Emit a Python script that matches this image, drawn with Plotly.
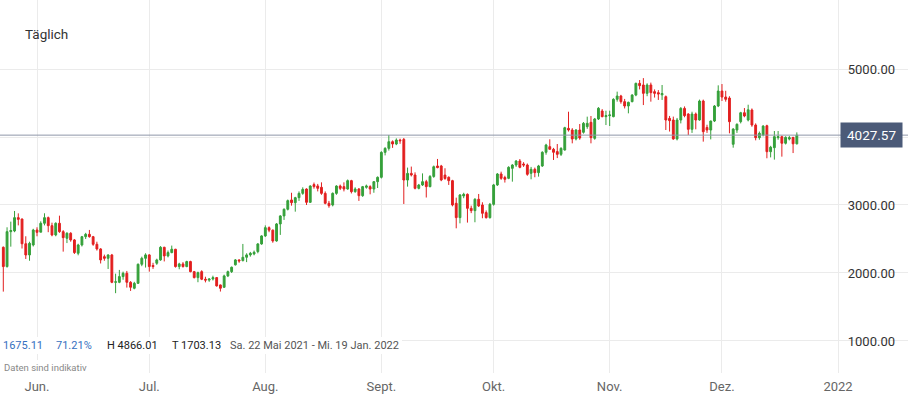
import pandas as pd
import plotly.graph_objects as go

# ---- data ----
start_date = "2021-05-23"
open_ = [
    2378, 2094, 2608, 2618, 2814, 2794, 2430, 2265, 2412,
    2632, 2600, 2731, 2814, 2696, 2559, 2731, 2608, 2510, 2584, 2486, 2290, 2412, 2534, 2569, 2534, 2422, 2353, 2240, 2216, 2265, 1863, 1863, 1947, 1996, 1863, 1775, 1848, 2128, 2216,
    2266, 2110, 2143, 2192, 2378, 2251, 2300, 2349, 2094, 2133, 2094, 2168, 2020, 1932, 2020, 1908, 1895, 1912, 1932, 1824, 1790, 1957, 2020, 2120, 2192, 2182, 2231, 2266, 2280, 2315, 2427,
    2545, 2667, 2630, 2471, 2721, 2839, 2937, 3074, 3034, 3108, 3171, 3235, 3039, 3300, 3280, 3260, 3171, 3025, 3000, 3171, 3279, 3270, 3235, 3358, 3196, 3235, 3137, 3260, 3270, 3235, 3343,
    3407, 3774, 3833, 3931, 3897, 3955, 3965, 3367, 3465, 3441, 3245, 3294, 3343, 3270, 3420, 3574, 3574, 3440, 3408, 3358, 3025, 2814, 3133, 3157, 2951, 2917, 3084, 3000, 2888, 2814,
    3010, 3295, 3456, 3405, 3392, 3539, 3588, 3647, 3603, 3588, 3466, 3525, 3476, 3574, 3775, 3858, 3819, 3785, 3745, 3809, 4127, 4103, 3971, 4103, 4069, 4152, 4216, 3980, 4265, 4382, 4299,
    4314, 4299, 4554, 4603, 4520, 4456, 4520, 4617, 4789, 4765, 4642, 4765, 4667, 4652, 4620, 4593, 4274, 4250, 3971, 4250, 4421, 4338, 4113, 4338, 4250, 4529, 4140, 4103, 4235, 4456,
    4676, 4588, 4573, 3893, 4103, 4225, 4357, 4250, 4397, 4176, 3990, 4030, 4166, 3784, 3843, 3990, 4005, 3908, 3970, 3995, 3900,
]
high = [
    2390, 2672, 2755, 2912, 2877, 2800, 2540, 2460, 2650,
    2672, 2760, 2878, 2830, 2740, 2745, 2843, 2630, 2600, 2600, 2500, 2430, 2545, 2590, 2633, 2545, 2460, 2365, 2270, 2275, 2280, 1990, 2045, 2020, 2030, 1880, 1870, 2140, 2240, 2290,
    2275, 2150, 2210, 2395, 2385, 2330, 2403, 2355, 2150, 2160, 2180, 2180, 2030, 2020, 2040, 1945, 1925, 1960, 1940, 1830, 1975, 2035, 2095, 2205, 2200, 2427, 2290, 2310, 2330, 2440, 2555,
    2700, 2685, 2640, 2735, 2850, 2950, 3080, 3180, 3120, 3200, 3260, 3245, 3290, 3330, 3310, 3333, 3200, 3060, 3185, 3290, 3300, 3333, 3375, 3370, 3260, 3250, 3280, 3300, 3290, 3350, 3420,
    3790, 3850, 4029, 3950, 3980, 3975, 3985, 3550, 3565, 3480, 3310, 3465, 3370, 3440, 3580, 3677, 3590, 3540, 3420, 3370, 3108, 3160, 3180, 3170, 2990, 3100, 3162, 3040, 2920, 3030,
    3310, 3470, 3490, 3430, 3570, 3600, 3660, 3676, 3630, 3610, 3560, 3550, 3590, 3790, 3900, 3966, 3840, 3897, 3850, 4150, 4372, 4130, 4115, 4191, 4220, 4299, 4309, 4280, 4440, 4410, 4387,
    4387, 4570, 4667, 4620, 4560, 4520, 4630, 4800, 4838, 4866, 4790, 4800, 4700, 4690, 4765, 4610, 4310, 4300, 4280, 4440, 4450, 4350, 4372, 4360, 4550, 4550, 4180, 4240, 4470, 4760,
    4779, 4680, 4600, 4130, 4200, 4370, 4426, 4475, 4420, 4200, 4080, 4175, 4180, 3870, 4088, 4088, 4020, 4010, 4015, 4000, 4068,
]
low = [
    1726, 2080, 2387, 2600, 2700, 2360, 2206, 2180, 2390,
    2540, 2600, 2700, 2600, 2540, 2540, 2590, 2314, 2440, 2460, 2280, 2260, 2390, 2500, 2520, 2400, 2330, 2140, 2180, 2059, 1850, 1703, 1850, 1900, 1785, 1736, 1760, 1840, 2100, 2080,
    2020, 2060, 2120, 2180, 2170, 2230, 2290, 2080, 2055, 2080, 2085, 2010, 1920, 1864, 1895, 1862, 1870, 1890, 1800, 1727, 1780, 1940, 2000, 2110, 2150, 2170, 2160, 2240, 2260, 2290, 2415,
    2530, 2600, 2445, 2460, 2560, 2780, 2920, 2990, 2902, 3060, 3150, 3000, 3030, 3240, 3200, 3150, 3010, 2960, 2980, 3150, 3220, 3200, 3225, 3170, 3180, 3060, 3120, 3240, 3157, 3180, 3250,
    3390, 3730, 3800, 3840, 3880, 3900, 3015, 3270, 3420, 3230, 3230, 3280, 3110, 3260, 3400, 3540, 3350, 3370, 3295, 2980, 2657, 2730, 3100, 2741, 2880, 2746, 2970, 2805, 2800, 2800,
    2990, 3280, 3370, 3330, 3380, 3343, 3560, 3540, 3560, 3430, 3378, 3408, 3417, 3560, 3740, 3820, 3662, 3690, 3720, 3800, 4080, 3907, 3950, 3960, 4050, 4120, 3907, 3960, 4250, 4290, 4176,
    4162, 4290, 4520, 4490, 4420, 4348, 4510, 4600, 4700, 4470, 4600, 4520, 4580, 4545, 4545, 4103, 4080, 3960, 3950, 4200, 4290, 4030, 4060, 4113, 4240, 3932, 4060, 3965, 4220, 4440,
    4530, 4520, 4054, 3843, 4060, 4200, 4290, 4230, 4150, 3951, 3960, 4010, 3687, 3700, 3667, 3960, 3711, 3890, 3950, 3764, 3890,
]
close = [
    2094, 2608, 2625, 2814, 2789, 2430, 2265, 2436, 2632,
    2598, 2731, 2814, 2696, 2559, 2731, 2608, 2520, 2584, 2486, 2300, 2412, 2534, 2569, 2534, 2422, 2353, 2192, 2216, 2265, 1863, 1870, 1947, 1996, 1863, 1790, 1848, 2128, 2216, 2266,
    2094, 2094, 2192, 2378, 2251, 2300, 2349, 2094, 2133, 2094, 2168, 2020, 1932, 2005, 1908, 1895, 1910, 1932, 1810, 1775, 1957, 2020, 2084, 2192, 2178, 2231, 2266, 2290, 2305, 2427, 2545,
    2667, 2630, 2471, 2721, 2839, 2937, 3064, 3034, 3108, 3171, 3230, 3039, 3279, 3270, 3245, 3171, 3025, 2990, 3171, 3279, 3245, 3235, 3358, 3196, 3235, 3137, 3270, 3280, 3235, 3343, 3407,
    3774, 3833, 3931, 3897, 3955, 3945, 3367, 3465, 3441, 3245, 3294, 3343, 3270, 3420, 3563, 3550, 3368, 3390, 3358, 3000, 2814, 3148, 3157, 2951, 2917, 3084, 2986, 2878, 2814, 3010,
    3295, 3456, 3392, 3378, 3554, 3588, 3647, 3554, 3588, 3451, 3525, 3476, 3574, 3775, 3882, 3819, 3775, 3745, 3833, 4137, 4103, 3971, 4103, 3985, 4201, 4201, 3990, 4265, 4422, 4299, 4314,
    4324, 4554, 4603, 4520, 4456, 4510, 4617, 4789, 4755, 4642, 4765, 4652, 4642, 4632, 4640, 4250, 4240, 3971, 4250, 4421, 4314, 4113, 4338, 4250, 4529, 4078, 4103, 4235, 4456, 4676,
    4588, 4554, 4225, 4117, 4187, 4357, 4309, 4400, 4176, 3990, 4054, 4160, 3784, 3850, 4005, 4005, 3908, 3995, 3990, 3900, 4027.57,
]
last_price = 4027.57
ytick_vals = [1000, 2000, 3000, 4000, 5000]
ytick_text = ["1000.00", "2000.00", "3000.00", "", "5000.00"]  # 4000 is hidden under the price tag
xtick_vals = ["2021-06-01", "2021-07-01", "2021-08-01", "2021-09-01", "2021-10-01",
              "2021-11-01", "2021-12-01", "2022-01-01"]
xtick_text = ["Jun.", "Jul.", "Aug.", "Sept.", "Okt.", "Nov.", "Dez.", "2022"]
title_text = "Täglich"
info_change = "1675.11"
info_pct = "71.21%"
info_high = "H 4866.01"
info_low = "T 1703.13"
info_range = "Sa. 22 Mai 2021 - Mi. 19 Jan. 2022"
info_note = "Daten sind indikativ"

dates = pd.date_range(start_date, periods=len(close), freq="D")

# ---- layout constants ----
W, H = 908, 396
MB = 23
PH = H - MB
FONT = "Roboto, Inter, Arial, sans-serif"
GREEN = "#35a03a"
RED = "#e21f1f"


def px(x):
    return x / W


def py(y):
    return (PH - y) / PH


fig = go.Figure(
    go.Candlestick(
        x=dates, open=open_, high=high, low=low, close=close,
        increasing=dict(line=dict(color=GREEN, width=1), fillcolor=GREEN),
        decreasing=dict(line=dict(color=RED, width=1), fillcolor=RED),
        whiskerwidth=0,
        hoverinfo="skip",
        showlegend=False,
    )
)

fig.update_layout(
    width=W, height=H,
    margin=dict(l=0, r=0, t=0, b=MB),
    paper_bgcolor="white", plot_bgcolor="white",
    font=dict(family=FONT, color="#333333"),
    xaxis=dict(
        type="date",
        range=["2021-05-22 02:45", "2022-01-19 16:50"],
        rangeslider=dict(visible=False),
        tickvals=xtick_vals, ticktext=xtick_text,
        showgrid=True, gridcolor="#ebebeb", gridwidth=1,
        showline=False, zeroline=False, ticks="",
        tickfont=dict(size=13, color="#666666"),
        ticklabelstandoff=4,
    ),
    yaxis=dict(
        range=[529, 6015],
        side="right",
        tickvals=ytick_vals, ticktext=ytick_text,
        ticklabelposition="inside",
        ticklabelstandoff=10,
        showgrid=True, gridcolor="#ebebeb", gridwidth=1,
        showline=False, zeroline=False, ticks="",
        tickfont=dict(size=13, color="#333333"),
    ),
)

# last price line
fig.add_shape(type="line", xref="paper", x0=0, x1=1, yref="y", y0=last_price, y1=last_price,
              line=dict(color="#8e97a8", width=1), layer="above")

# white bands behind the info texts
fig.add_shape(type="rect", xref="paper", yref="paper", x0=0, x1=px(402), y0=py(354), y1=py(337),
              fillcolor="white", line=dict(width=0), layer="above")
fig.add_shape(type="rect", xref="paper", yref="paper", x0=0, x1=px(90), y0=py(373), y1=py(360),
              fillcolor="white", line=dict(width=0), layer="above")

ann = []
ann.append(dict(x=1, xref="paper", y=last_price, yref="y", xanchor="right", yanchor="middle",
                xshift=-5, text=f"{last_price:.2f}", showarrow=False,
                font=dict(size=13.5, color="white", family=FONT),
                bgcolor="#4b5a78", borderpad=4, width=53, height=16))
ann.append(dict(x=px(23), y=py(34), xref="paper", yref="paper", xanchor="left", yanchor="middle",
                text=title_text, showarrow=False, font=dict(size=13.5, color="#333333")))
for xpos, txt, col in [(1, info_change, "#3570c0"), (54, info_pct, "#3570c0"),
                       (105, info_high, "#222222"), (170, info_low, "#222222"),
                       (228, info_range, "#555555")]:
    ann.append(dict(x=px(xpos), y=py(345), xref="paper", yref="paper", xanchor="left",
                    yanchor="middle", text=txt, showarrow=False,
                    font=dict(size=11, color=col)))
ann.append(dict(x=px(2), y=py(367), xref="paper", yref="paper", xanchor="left", yanchor="middle",
                text=info_note, showarrow=False, font=dict(size=9.5, color="#888888")))
fig.update_layout(annotations=ann)

fig.write_html("out.html",
               config={"displayModeBar": False},
               post_script="document.body.style.margin='0px';document.body.style.overflow='hidden';")
